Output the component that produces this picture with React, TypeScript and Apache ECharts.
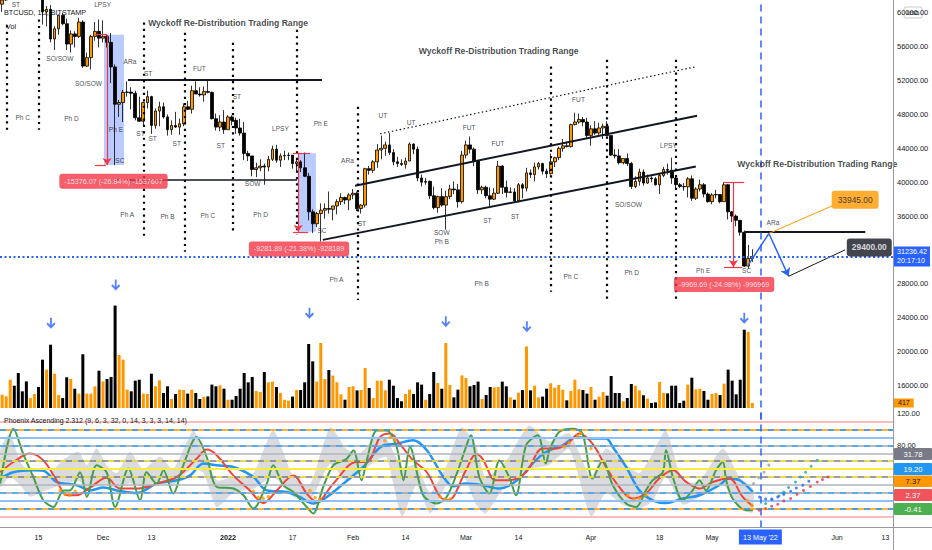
import { useEffect, useRef } from 'react';
import * as echarts from 'echarts';

const FONT = '"Liberation Sans", Arial, sans-serif';
const INK = '#131722';
const UP = '#ff9800';
const DOWN = '#000000';
const BLUE = '#2962ff';
const RED = '#f23645';

// days counted from 2021-12-01; first candle is 2021-11-05
const FIRST_DAY = -26;
const X_MIN = -25.54;
const X_MAX = 195.88;
const CURSOR_DAY = 163; // 13 May '22
const LAST_PRICE = 31236.42;
const COUNTDOWN = '20:17:10';

// [open, high, low, close]  BTCUSD 1D, 2021-11-05 .. 2022-05-11
const OHLC: number[][] = [
  [61400, 62600, 60700, 61000], [61000, 61600, 60100, 61500], [61500, 63300, 61400, 63300], [63300, 67800, 63300, 67500],
  [67500, 68500, 66400, 66900], [66900, 69000, 63000, 64900], [64900, 65600, 64100, 64800], [64800, 65000, 62300, 64150],
  [64150, 64900, 63300, 64400], [64400, 65500, 63600, 65500], [65500, 66300, 63500, 63600], [63600, 63600, 58600, 60100],
  [60100, 60800, 58400, 60400], [60400, 60900, 56500, 56900], [56900, 58400, 55600, 58100], [58100, 59800, 57400, 59700],
  [59700, 60000, 58500, 58700], [58700, 59300, 55600, 56300], [56300, 57900, 55300, 57500], [57500, 57800, 55900, 57200],
  [57200, 59400, 57000, 58900], [58900, 59100, 53500, 53700], [53700, 55300, 53600, 54700], [54700, 57400, 53300, 57200],
  [57200, 58900, 56700, 57800], [57800, 59200, 55900, 57000],
  // Dec
  [57000, 59100, 56500, 57200], [57200, 57400, 55900, 56500], [56500, 57600, 51700, 53600], [53600, 53900, 42000, 49200],
  [49200, 49700, 47700, 49400], [49400, 50900, 47100, 50600], [50600, 51900, 50100, 50640], [50640, 51200, 48600, 50500],
  [50500, 50800, 47300, 47600], [47600, 50100, 47100, 47200], [47200, 49500, 46600, 49400], [49400, 50800, 48700, 50100],
  [50100, 50200, 45700, 46700], [46700, 48700, 46300, 48400], [48400, 49500, 46600, 48900], [48900, 49400, 47500, 47700],
  [47700, 48000, 45500, 46200], [46200, 47300, 45600, 46700], [46700, 48300, 46400, 46500], [46500, 47500, 45600, 46900],
  [46900, 49300, 46600, 48900], [48900, 49600, 48500, 48600], [48600, 51400, 48100, 50800], [50800, 51900, 50400, 50400],
  [50400, 51200, 50100, 50300], [50300, 51300, 49500, 50700], [50700, 52100, 50500, 50600], [50600, 50700, 47400, 47500],
  [47500, 48100, 46100, 46500], [46500, 47900, 46000, 47100], [47100, 48500, 45700, 46200],
  // Jan
  [46200, 47900, 46200, 47700], [47700, 47900, 46700, 47300], [47300, 47600, 45700, 46400], [46400, 47500, 45500, 45800],
  [45800, 47100, 42600, 43400], [43400, 43700, 42500, 43100], [43100, 43100, 40700, 41500], [41500, 42300, 40600, 41700],
  [41700, 42700, 41300, 41900], [41900, 42200, 39700, 41800], [41800, 43100, 41300, 42700], [42700, 44300, 42500, 43900],
  [43900, 44400, 42300, 42600], [42600, 43400, 41800, 43100], [43100, 43700, 42600, 43150], [43150, 43500, 42600, 43200],
  [43200, 43200, 41600, 42200], [42200, 42700, 41300, 42400], [42400, 42600, 41200, 41700], [41700, 43500, 40600, 40700],
  [40700, 41100, 35500, 36500], [36500, 36800, 34000, 35100], [35100, 36500, 34700, 36300], [36300, 37500, 33000, 36700],
  [36700, 37500, 35700, 36900], [36900, 38900, 36300, 36800], [36800, 37200, 35500, 37200], [37200, 38000, 36200, 37700],
  [37700, 38700, 37300, 38200], [38200, 38300, 37400, 37900], [37900, 38700, 36700, 38500],
  // Feb
  [38500, 39200, 38000, 38700], [38700, 38900, 36600, 36900], [36900, 37400, 36300, 37300], [37300, 41700, 37000, 41600],
  [41600, 41900, 40900, 41400], [41400, 42600, 41100, 42400], [42400, 44500, 41700, 43800], [43800, 45500, 42700, 44000],
  [44000, 44800, 43100, 44400], [44400, 45800, 43200, 43500], [43500, 43900, 42000, 42400], [42400, 43000, 41800, 42200],
  [42200, 42700, 41900, 42100], [42100, 42900, 41600, 42500], [42500, 44700, 42500, 44500], [44500, 44600, 43300, 43900],
  [43900, 44200, 40100, 40500], [40500, 40900, 39500, 40000], [40000, 40500, 39700, 40100], [40100, 40200, 38000, 38400],
  [38400, 39500, 36800, 37000], [37000, 38400, 36400, 38300], [38300, 39300, 37100, 37300], [37300, 39000, 34400, 38300],
  [38300, 39700, 38000, 39200], [39200, 40100, 38600, 39100], [39100, 39800, 37000, 37700], [37700, 43700, 37500, 43200],
  // Mar
  [43200, 44900, 42800, 44400], [44400, 45400, 43400, 43900], [43900, 44100, 41900, 42500], [42500, 42500, 38600, 39100],
  [39100, 39600, 38600, 39400], [39400, 39600, 38100, 38400], [38400, 39400, 37200, 38000], [38000, 39300, 37900, 38700],
  [38700, 42500, 38600, 41900], [41900, 42000, 38600, 39400], [39400, 40200, 38200, 38800], [38800, 39400, 38700, 38850],
  [38850, 39300, 37600, 37800], [37800, 39900, 37600, 39700], [39700, 39900, 38100, 39300], [39300, 41700, 38900, 41100],
  [41100, 41500, 40500, 40900], [40900, 42300, 40100, 41800], [41800, 42400, 41500, 42200], [42200, 42300, 40900, 41300],
  [41300, 41600, 40500, 41000], [41000, 43400, 40900, 42400], [42400, 43000, 41800, 42900], [42900, 44200, 42600, 44000],
  [44000, 45100, 43600, 44300], [44300, 44800, 44100, 44200], [44200, 46900, 44100, 46800], [46800, 48200, 46700, 47100],
  [47100, 48100, 46900, 47400], [47400, 47700, 46600, 47100], [47100, 47600, 45200, 45500],
  // Apr
  [45500, 46700, 44300, 46300], [46300, 47200, 45600, 45800], [45800, 47000, 45600, 46400], [46400, 46900, 45100, 46600],
  [46600, 47200, 45400, 45500], [45500, 45500, 43100, 43200], [43200, 43900, 42800, 43100], [43100, 43900, 42100, 42300],
  [42300, 42800, 42100, 42800], [42800, 43400, 41900, 42200], [42200, 42400, 39200, 39500], [39500, 40700, 39300, 40100],
  [40100, 41600, 39600, 41200], [41200, 41500, 39600, 39900], [39900, 40900, 39800, 40500], [40500, 40700, 40000, 40400],
  [40400, 40600, 39600, 39700], [39700, 41100, 38600, 40800], [40800, 41800, 40600, 41500], [41500, 42200, 40900, 41400],
  [41400, 42900, 39800, 40500], [40500, 40800, 39200, 39700], [39700, 39900, 39300, 39500], [39500, 39900, 39000, 39450],
  [39450, 40600, 38200, 40400], [40400, 40800, 37800, 38100], [38100, 39400, 37900, 39200], [39200, 40300, 38900, 39700],
  [39700, 39900, 38200, 38600], [38600, 38800, 37600, 37700],
  // May
  [37700, 38700, 37400, 38500], [38500, 39100, 38100, 38550], [38550, 38600, 37500, 37700], [37700, 40000, 37700, 39700],
  [39700, 39800, 35600, 36500], [36500, 36600, 35300, 36000], [36000, 36200, 34800, 35500], [35500, 35500, 33700, 34100],
  [34100, 34300, 30000, 30100], [30100, 32600, 29800, 31000], [31000, 32100, 30600, 31236.42],
];

const VOLUME: number[] = [
  1390, 1110, 970, 2360, 1860, 2920, 1390, 2220, 830, 1170,
  1750, 4030, 3200, 5280, 2860, 1080, 830, 2560, 2420, 1610,
  1200, 4480, 1200, 1200, 1810, 3110, 2220, 2420, 2590, 8540,
  4420, 4030, 1530, 1390, 2280, 2360, 1200, 1170, 2860, 1810,
  2310, 1250, 1810, 750, 1170, 1530, 1500, 1200, 1530, 1250,
  750, 920, 970, 1950, 1810, 1890, 1610, 690, 690, 1000,
  1610, 2920, 2140, 2590, 1420, 1330, 3000, 2140, 2200, 1750,
  1250, 690, 610, 950, 1500, 1500, 2140, 5340, 3890, 2200,
  5420, 2420, 3170, 2700, 2140, 1140, 690, 1750, 1810, 1470,
  1500, 3340, 1670, 830, 2280, 2280, 1470, 2360, 1860, 830,
  560, 1170, 1530, 1170, 2140, 1950, 690, 1170, 3000, 2090,
  1610, 5420, 1920, 890, 1530, 2720, 2500,
  1810, 1920, 2200, 750, 1080, 1750, 1720, 1750, 2200, 1810,
  890, 690, 1280, 1500, 5140, 1470, 1860, 890, 950, 1610,
  2060, 1690, 1920, 1530, 640, 1420, 2360, 1560, 1500, 1200,
  1750, 690, 950, 1330, 1030, 2670, 1250, 1250, 560, 830,
  2000, 1860, 1470, 1060, 780, 420, 470, 2170, 1250, 1220,
  1860, 1860, 420, 610, 1950, 2530, 1560, 1610, 1420, 690,
  1170, 1250, 1080, 2030, 3200, 2280, 1140, 2360, 6530, 6340, 417,
];

const TIME_LABELS: [number, string][] = [
  [-16, '15'], [0, 'Dec'], [12, '13'], [31, '2022'], [47, '17'], [62, 'Feb'], [75, '14'],
  [90, 'Mar'], [103, '14'], [121, 'Apr'], [138, '18'], [151, 'May'], [182, 'Jun'], [194, '13'],
];

// chart drawings, in [day, price]
const RANGE_LINES: number[][][] = [
  [[-26, 59560], [3.7, 59560]],
  [[6.2, 52050], [54.3, 52050]],
  [[3, 40340], [48.1, 40340]],
  [[159.2, 34150], [189, 34150]],
];
const CHANNEL_LINES: number[][][] = [
  [[54.5, 33195], [147, 41850]],
  [[62.5, 39572], [147.3, 47837]],
];
const CHANNEL_TOP: number[][] = [[68.7, 45712], [147.3, 53660]];
const PHASE_LINES: number[][] = [
  [-23.9, 58510, 46180], [-15.9, 59200, 46180], [10, 58850, 33200], [20.2, 57640, 31780],
  [32.1, 56460, 34140], [48.1, 57990, 33790], [63.2, 48900, 26110], [111, 53660, 27060],
  [125, 54450, 26110], [142.1, 54450, 26110],
];
const PROJECTION: number[][] = [[160, 30240], [165.1, 33945], [170, 28900]];
const TARGETS = [
  { text: '33945.00', from: [165.1, 33945], to: [180.8, 37210], at: [186.5, 37920] },
  { text: '29400.00', from: [170, 28900], to: [184, 32015], at: [190, 32310] },
];
const MEASURES = [
  { text: '-15376.07 (-26.84%) -1537607', top: 57400, bottom: 42024, lineDay: 1, cap: [-2, 1], box: [0.25, 5.2], at: [2.6, 40100] },
  { text: '-9281.89 (-21.38%) -928189', top: 43430, bottom: 34148, lineDay: 48.4, cap: [47.1, 51.3], box: [48.4, 52.8], at: [48.6, 32130] },
  { text: '-9969.69 (-24.98%) -996969', top: 39960, bottom: 29990, lineDay: 156.3, cap: [154, 159], box: null, at: [154, 27940] },
];
const TITLES: [string, number, number][] = [
  ['Wyckoff Re-Distribution Trading Range', 31, 58780],
  ['Wyckoff Re-Distribution Trading Range', 98.1, 55510],
  ['Wyckoff Re-Distribution Trading Range', 177.1, 42130],
];
const ANNOTATIONS: [string, number, number][] = [
  ['ST', -21.6, 61000], ['LPSY', -0.1, 61000], ['SO/SOW', -10.7, 54650], ['SO/SOW', -3.6, 51700],
  ['ARa', 6.7, 54250], ['ST', 11.2, 52800], ['FUT', 23.9, 53470], ['ST', 33.2, 50120],
  ['Ph C', -19.9, 47640], ['Ph D', -7.8, 47570], ['Ph E', 3.2, 46180], ['SC', 4.2, 42560],
  ['ST', 9.3, 45790], ['ST', 12.3, 45120], ['ST', 18.3, 44610], ['ST', 29.2, 44380],
  ['LPSY', 44, 46300], ['SOW', 37.1, 39810], ['Ph E', 54, 46890], ['ARa', 60.6, 42610],
  ['ST', 64.2, 35140], ['SC', 54.3, 34320], ['Ph A', 6, 36150], ['Ph B', 16, 35950],
  ['Ph C', 26, 36030], ['Ph D', 39.1, 36230], ['Ph A', 57.9, 28470], ['UT', 69.4, 47840],
  ['UT', 76.4, 47090], ['FUT', 90.8, 46500], ['FUT', 97.9, 44530], ['SOW', 84, 34060],
  ['Ph B', 84, 32990], ['ST', 95.3, 35440], ['ST', 102.2, 35950], ['Ph B', 93.9, 28080],
  ['FUT', 117.9, 49730], ['Ph C', 116, 28860], ['LPSY', 140.2, 44290], ['SO/SOW', 130.3, 37330],
  ['Ph D', 131.1, 29330], ['Ph E', 148.8, 29570], ['SC', 159.6, 29540], ['ARa', 166.1, 35260],
];
const VOLUME_ARROWS: number[][] = [[-12.9, 7064], [3.15, 10258], [51.2, 7900], [85, 7200], [105.1, 6780], [159, 7480]];

// oscillator (Phoenix Ascending)
const OSC_LEVELS = [110, 100, 90, 80, 70, 60, 50, 40, 30, 20, 10, 0, -10];
const OSC_FAST: number[][] = [
  [-25.5, 31.6], [-22.2, 101], [-19.8, 69.6], [-17.3, 40], [-14.8, 10.5], [-12.3, 2], [-9.8, 23], [-8.2, 23],
  [-5.7, 46], [-4, 14.7], [-1.6, 54.8], [0.9, 46], [3, 2], [6.3, 50.6], [9.2, 10.5], [10.8, 46], [13.3, 31.6],
  [15, 48.5], [17.4, 19], [19.9, 54.8], [23.2, 90.6], [25.7, 65.3], [28.2, 27.3], [32.3, 25.3], [34.8, 16.8],
  [37.3, 0], [40.6, 31.6], [42.2, 54.8], [44.7, 29.5], [47.2, 21], [50.5, 2], [52.1, -6.3], [54.6, 27.3],
  [57.1, 54.8], [60.4, 63], [62.1, 73.8], [64.1, 35.8], [65.4, 61], [67.9, 99], [70.3, 99], [72.8, 78],
  [74.5, 35.8], [76.1, 78], [79.4, 16.8], [82.7, 6.3], [85.2, 14.7], [87.7, 44], [90, 78], [91.2, 92.8],
  [93.3, 40], [95.8, 19], [98.3, 61], [100.7, 40], [102.4, 16.8], [104.9, 80], [107.8, 92.8], [109.8, 57],
  [110.7, 73.8], [113.1, 97], [116.5, 101], [118.9, 95], [121.4, 38], [123.9, 61], [126.4, 29.5], [129.7, 6.3],
  [132.2, 2], [134.6, 23], [136.3, 35.8], [138.8, 46], [139.6, 73.8], [141.3, 40], [143.7, 10.5], [146.2, 23],
  [147.9, 35.8], [149.5, 23], [152, 48.5], [153.7, 59], [154.5, 35.8], [156.1, 12.7], [159.4, -2], [161.1, -2],
];
const OSC_MID: number[][] = [
  [-25.5, 46], [-22.2, 59], [-18.1, 69.6], [-14.8, 61], [-11.5, 35.8], [-9, 16.8], [-6.5, 16.8], [-3.2, 26.6],
  [0.9, 39], [4.2, 25.3], [8.4, 25.3], [13.3, 31.6], [18.3, 40], [23.2, 63], [25.7, 74.7], [28.2, 67.5],
  [32.3, 42], [36.4, 23], [39.7, 7], [43.1, 23], [47.2, 42], [50.5, 19], [53, 8.4], [57.1, 31.6], [62.9, 59],
  [65.4, 59], [68.7, 90.6], [71.2, 95], [73.6, 82], [76.9, 61], [80.3, 46], [83.6, 14.7], [85.6, 10.5],
  [90, 48.5], [92.5, 69], [94.1, 63], [97.4, 35.8], [100.7, 35.8], [104.9, 46], [109, 76], [112.3, 76],
  [115.6, 84.3], [118.1, 95], [121.4, 82], [124.7, 52.7], [128, 27.3], [131.3, 12.7], [134.6, 19], [137.9, 38],
  [141.3, 48.5], [144.6, 33.7], [147.9, 25.3], [151.2, 33.7], [155.3, 38], [158.6, 14.7], [161.1, 3],
];
const OSC_SLOW: number[][] = [
  [-25.5, 38], [-22.2, 46], [-17.3, 48.5], [-14.8, 48], [-11.5, 33.7], [-6.5, 29.5], [-3.2, 23], [0.1, 26.6],
  [3.4, 23], [8.4, 19.7], [13.3, 31.6], [18.3, 35.8], [21.6, 42], [24.9, 57], [28.2, 54.8], [32.3, 52.7],
  [37.3, 40], [40.6, 23], [45.5, 21], [48.8, 14.7], [52.1, 6.3], [55.5, 14.7], [59.6, 31.6], [64.5, 52.7],
  [69.5, 80], [72.8, 82], [76.9, 86.5], [80.3, 73.8], [84.4, 40], [86.9, 28.2], [90, 31.6], [94.1, 29.5],
  [98.3, 25.3], [103.2, 38], [106.5, 57], [109.8, 71.6], [114, 80], [117.3, 90.6], [120.6, 88.6], [124.7, 88.6],
  [126.4, 78], [129.7, 52.7], [133, 23], [136.3, 10.5], [139.6, 7], [143.7, 12.7], [147.9, 16.8], [152.8, 29.5],
  [155.3, 38], [157.8, 35.8], [161.1, 21],
];
// [day, low, high]
const OSC_BAND: number[][] = [
  [-25.5, 27, 74], [-23.1, 40, 95], [-20.6, 30, 60], [-18.1, 15, 45], [-15.6, 20, 40], [-13.1, 25, 45],
  [-9.8, 30, 62], [-6.1, 35, 72], [-4, 25, 55], [-1.6, 28, 76], [0.9, 30, 55], [3.4, 25, 45], [6.7, 32, 72],
  [10, 28, 50], [14.1, 36, 66], [17.4, 30, 50], [22.4, 52, 99], [24.9, 45, 70], [28.2, 2, 36], [32.3, 20, 40],
  [37.3, 25, 45], [42.2, 40, 99], [47.2, 15, 40], [51.3, 10, 30], [56.3, 56, 103], [60.4, 35, 75],
  [63.7, 45, 70], [67.5, 60, 90], [70.3, 65, 88], [74.1, -10, 53], [77.8, 30, 55], [81.1, -6, 20],
  [85.2, 30, 55], [88.9, 45, 103], [92.5, 5, 80], [94.9, -6, 40], [99.9, 30, 60], [105.6, 50, 105],
  [110.6, 55, 85], [115.6, 75, 95], [121, -10, 40], [124.7, 20, 76], [128.8, 5, 60], [133, 0, 45],
  [136.3, 10, 70], [139.6, 40, 99], [143.7, 5, 35], [147.9, 15, 35], [153.7, 30, 76], [157.8, 0, 40],
  [161.1, -5, 25],
];
const OSC_DOTS: number[][] = [
  [-10.6, 23], [-9.4, 18], [-8.2, 17], [-6.9, 22], [37.3, 22], [38.5, 14], [39.7, 13], [41, 15],
  [51.3, 23], [52.6, 14], [53.8, 12], [69.9, 86], [71.2, 90], [72.4, 87], [83.6, 15], [84.8, 12], [86.1, 12],
  [114.4, 78], [115.6, 83], [117.7, 92], [118.5, 95], [121, 76], [130.1, 17], [131.7, 12], [133, 13],
  [134.6, 17], [159.8, 10], [160.9, 4],
];
const FC_GREY: number[][] = [[161.3, 31.6], [162.6, 39], [163.9, 46], [165.1, 55]];
const FC_TEAL: number[][] = [[164.3, 6.3], [165.9, 11.4], [167.6, 16], [168.8, 21], [170, 26.6], [171.7, 33.7], [172.9, 40], [174.2, 46], [175.6, 53.5], [177.1, 61]];
const FC_BLUE: number[][] = [[162.8, 14.7], [164.3, 12], [165.8, 12], [167.3, 14.7], [168.8, 18], [170.5, 22], [171.9, 26], [173.5, 29.5], [175, 34.6]];
const FC_RED: number[][] = [[162.7, -2.2], [164.3, 0], [165.8, 3], [167.3, 5.5], [168.8, 9.7], [170.5, 12.7], [172.1, 18], [173.7, 23], [175.4, 28], [177.1, 33.7], [178.4, 36.7], [179.8, 40]];
const OSC_LAST: [string, string, string][] = [
  ['31.78', '#787b86', '#ffffff'], ['19.20', '#2196f3', '#ffffff'], ['7.37', '#ff9800', INK],
  ['2.37', '#f0535a', '#ffffff'], ['-0.41', '#4caf50', '#ffffff'],
];

function levelStyles(v: number): any[] {
  if (v === 110 || v === -10) return [{ color: '#f7a8a6', width: 1.5, type: 'solid' }];
  if (v === 100 || v === 0) return [{ color: '#ff9800', width: 1.5, type: 'solid' }, { color: '#2196f3', width: 1.5, type: [6, 6] }];
  if (v === 90 || v === 10) return [{ color: '#90bff9', width: 2, type: 'solid' }];
  if (v === 60 || v === 40) return [{ color: '#787b86', width: 1.5, type: 'solid' }, { color: '#ffeb3b', width: 1.5, type: [6, 6] }];
  if (v === 50) return [{ color: '#ffeb3b', width: 2, type: 'solid' }];
  if (v === 80 || v === 20) return [{ color: '#9aa0ad', width: 1.5, type: 'solid' }, { color: '#42a5f5', width: 1.5, type: [6, 6] }];
  return [{ color: '#b2b5be', width: 1.5, type: 'solid' }];
}

function buildOption(): any {
  const candleData = OHLC.map((c, i) => [FIRST_DAY + i, c[0], c[3], c[2], c[1]]);
  const volumeData = VOLUME.map((v, i) => ({
    value: [FIRST_DAY + i, v],
    itemStyle: { color: OHLC[i][3] >= OHLC[i][0] ? UP : DOWN },
  }));

  const seg = (a: number[], b: number[], lineStyle: any, endSym = 'none', size = 7) => [
    { coord: a, symbol: 'none', lineStyle },
    { coord: b, symbol: endSym, symbolSize: size },
  ];
  const redStyle = { color: RED, width: 1.2, type: 'solid' };

  const priceLines: any[] = [
    ...RANGE_LINES.map(([a, b], i) => seg(a, b, { color: INK, width: i === 2 ? 1.5 : 2, type: 'solid' })),
    ...CHANNEL_LINES.map(([a, b]) => seg(a, b, { color: INK, width: 2, type: 'solid' })),
    seg(CHANNEL_TOP[0], CHANNEL_TOP[1], { color: INK, width: 1.2, type: [1.5, 2.5] }),
    ...PHASE_LINES.map(([d, top, bottom]) => seg([d, top], [d, bottom], { color: '#000', width: 2.2, type: [2.2, 4.2] })),
    seg(PROJECTION[0], PROJECTION[1], { color: BLUE, width: 1.5, type: 'solid' }),
    seg(PROJECTION[1], PROJECTION[2], { color: BLUE, width: 1.5, type: 'solid' }, 'arrow', 8),
    seg(TARGETS[0].from, TARGETS[0].to, { color: UP, width: 1, type: 'solid' }),
    seg(TARGETS[1].from, TARGETS[1].to, { color: INK, width: 1, type: 'solid' }),
    ...MEASURES.flatMap((m) => [
      seg([m.lineDay, m.top], [m.lineDay, m.bottom], redStyle, 'arrow', 7),
      seg([m.cap[0], m.top], [m.cap[1], m.top], redStyle),
      seg([m.cap[0], m.bottom], [m.cap[0] + (m.cap[1] - m.cap[0]) * 0.9, m.bottom], redStyle),
    ]),
    {
      yAxis: LAST_PRICE,
      lineStyle: { color: BLUE, width: 2, type: [2, 2.5] },
      label: {
        show: true, position: 'end', distance: 1, formatter: `${LAST_PRICE.toFixed(2)}\n${COUNTDOWN}`,
        backgroundColor: BLUE, color: '#fff', padding: [1, 3], fontSize: 7.2, lineHeight: 9, fontFamily: FONT,
      },
    },
    { xAxis: CURSOR_DAY, lineStyle: { color: BLUE, width: 1.5, type: [7, 5] } },
  ];

  const boxes = MEASURES.filter((m) => m.box).map((m) => [
    { coord: [m.box![0], m.top], itemStyle: { color: 'rgba(41,98,255,0.33)' } },
    { coord: [m.box![1], m.bottom] },
  ]);

  const oscLevelLines: any[] = [];
  OSC_LEVELS.forEach((v) => levelStyles(v).forEach((s) => oscLevelLines.push({ yAxis: v, lineStyle: s })));

  const timeLabelMap = new Map(TIME_LABELS);
  // price tick hidden behind the last-price badge
  const coveredTick = Math.round(LAST_PRICE / 4000) * 4000;

  return {
    animation: false,
    backgroundColor: '#ffffff',
    textStyle: { fontFamily: FONT },
    grid: [
      { left: 0, top: 0, width: 893, height: 419.5, outerBoundsMode: 'none' },
      { left: 0, top: 280, width: 893, height: 128, outerBoundsMode: 'none' },
      { left: 0, top: 407.5, width: 893, height: 120, outerBoundsMode: 'none' },
    ],
    xAxis: [0, 1, 2].map((g) => ({
      type: 'value', gridIndex: g, min: X_MIN, max: X_MAX, show: g === 2,
      splitLine: { show: false }, axisLine: { show: false }, axisTick: { show: false },
      axisLabel: g === 2 ? {
        customValues: TIME_LABELS.map((t) => t[0]), margin: 6, color: INK, fontSize: 7, fontFamily: FONT,
        formatter: (v: number) => {
          const t = timeLabelMap.get(v) ?? '';
          return t === '2022' ? '{b|2022}' : t;
        },
        rich: { b: { fontWeight: 'bold', fontSize: 7.2, color: INK, fontFamily: FONT } },
      } : { show: false },
    })),
    yAxis: [
      {
        type: 'value', gridIndex: 0, position: 'right', min: 12000, max: 61500, interval: 4000,
        splitLine: { show: false }, axisLine: { show: false }, axisTick: { show: false },
        axisLabel: {
          color: INK, fontSize: 7.5, margin: 4, fontFamily: FONT,
          formatter: (v: number) => (v >= 16000 && v % 4000 === 0 && v !== coveredTick ? v.toFixed(2) : ''),
        },
      },
      { type: 'value', gridIndex: 1, min: 0, max: 10675, show: false, splitLine: { show: false } },
      {
        type: 'value', gridIndex: 2, position: 'right', min: -24, max: 128, interval: 8,
        splitLine: { show: false }, axisLine: { show: false }, axisTick: { show: false },
        axisLabel: {
          color: INK, fontSize: 7.5, margin: 4, fontFamily: FONT,
          formatter: (v: number) => (v === 120 || v === 80 ? v.toFixed(2) : ''),
        },
      },
    ],
    series: [
      {
        type: 'scatter', name: 'drawings', xAxisIndex: 0, yAxisIndex: 0, z: 1,
        data: [[X_MIN, 50000]], symbolSize: 0, itemStyle: { opacity: 0 }, silent: true,
        markArea: { silent: true, data: boxes, z: 1 },
      },
      {
        type: 'candlestick', name: 'BTCUSD', xAxisIndex: 0, yAxisIndex: 0, z: 3,
        data: candleData, encode: { x: 0, y: [1, 2, 3, 4] }, barWidth: 3.2,
        itemStyle: { color: UP, color0: DOWN, borderColor: '#000', borderColor0: '#000', borderWidth: 0.8 },
      },
      {
        type: 'bar', name: 'Vol', xAxisIndex: 1, yAxisIndex: 1, z: 2, barWidth: 3,
        data: volumeData,
        markLine: {
          silent: true, symbol: ['none', 'none'],
          data: [{
            yAxis: VOLUME[VOLUME.length - 1], lineStyle: { color: 'rgba(0,0,0,0)', width: 1 },
            label: {
              show: true, position: 'end', distance: 1, formatter: String(VOLUME[VOLUME.length - 1]),
              backgroundColor: UP, color: INK, padding: [1, 4], fontSize: 7, fontFamily: FONT, opacity: 1,
            },
          }],
        },
      },
      {
        type: 'scatter', name: 'volume arrows', xAxisIndex: 1, yAxisIndex: 1, z: 5,
        symbol: 'path://M4,0 L6,0 L6,7.5 L8.6,4.9 L10,6.3 L5,11.3 L0,6.3 L1.4,4.9 L4,7.5 Z',
        symbolSize: [9, 11], itemStyle: { color: BLUE }, data: VOLUME_ARROWS,
      },
      {
        type: 'scatter', name: 'lines', xAxisIndex: 0, yAxisIndex: 0, z: 5,
        data: [[X_MIN, 50000]], symbolSize: 0, itemStyle: { opacity: 0 }, silent: true,
        markLine: { silent: true, symbol: ['none', 'none'], label: { show: false }, data: priceLines, z: 5 },
      },
      {
        type: 'scatter', name: 'annotations', xAxisIndex: 0, yAxisIndex: 0, z: 6, symbolSize: 1,
        itemStyle: { color: 'rgba(0,0,0,0)' },
        label: { show: true, position: 'inside', formatter: '{b}', color: INK, fontSize: 6.6, fontFamily: FONT },
        data: ANNOTATIONS.map(([t, d, p]) => ({ name: t, value: [d, p] })),
      },
      {
        type: 'scatter', name: 'titles', xAxisIndex: 0, yAxisIndex: 0, z: 6, symbolSize: 1,
        itemStyle: { color: 'rgba(0,0,0,0)' },
        label: { show: true, position: 'inside', formatter: '{b}', color: INK, fontSize: 8.6, fontWeight: 'bold', fontFamily: FONT },
        data: TITLES.map(([t, d, p]) => ({ name: t, value: [d, p] })),
      },
      {
        type: 'scatter', name: 'badges', xAxisIndex: 0, yAxisIndex: 0, z: 7, symbolSize: 1,
        itemStyle: { color: 'rgba(0,0,0,0)' },
        label: { show: true, position: 'inside', formatter: '{b}', fontFamily: FONT },
        data: [
          ...MEASURES.map((m) => ({
            name: m.text, value: m.at,
            label: { backgroundColor: RED, color: '#fff', padding: [4, 5], borderRadius: 3, fontSize: 7.2 },
          })),
          {
            name: TARGETS[0].text, value: TARGETS[0].at,
            label: { backgroundColor: UP, color: INK, padding: [5, 6], borderRadius: 3, fontSize: 8.4 },
          },
          {
            name: TARGETS[1].text, value: TARGETS[1].at,
            label: { backgroundColor: INK, color: '#fff', padding: [5, 5], borderRadius: 3, fontSize: 8.4, fontWeight: 'bold' },
          },
        ],
      },
      // oscillator
      {
        type: 'line', name: 'levels', xAxisIndex: 2, yAxisIndex: 2, z: 1,
        data: [[X_MIN, 50]], symbol: 'none', lineStyle: { opacity: 0 }, silent: true,
        markLine: {
          silent: true, symbol: ['none', 'none'], label: { show: false },
          data: [
            ...oscLevelLines,
            {
              xAxis: CURSOR_DAY, lineStyle: { color: BLUE, width: 1.5, type: [7, 5] },
              label: {
                show: true, position: 'start', distance: 2, formatter: "13 May '22",
                backgroundColor: BLUE, color: '#fff', padding: [4, 4], fontSize: 7.2, fontFamily: FONT,
              },
            },
          ],
        },
      },
      {
        type: 'custom', name: 'band', xAxisIndex: 2, yAxisIndex: 2, z: 2, clip: true,
        data: OSC_BAND, encode: { x: 0, y: [1, 2] },
        renderItem: (params: any, api: any) => {
          if (params.dataIndex !== 0) return null;
          const upper = OSC_BAND.map((b) => api.coord([b[0], b[2]]));
          const lower = OSC_BAND.map((b) => api.coord([b[0], b[1]])).reverse();
          return {
            type: 'polygon',
            shape: { points: [...upper, ...lower], smooth: 0.2 },
            style: { fill: '#c3c5cb', opacity: 0.62 },
          };
        },
      },
      {
        type: 'line', name: 'slow', xAxisIndex: 2, yAxisIndex: 2, z: 3, smooth: 0.35, symbol: 'none',
        lineStyle: { color: '#2196f3', width: 2.5 }, data: OSC_SLOW,
      },
      {
        type: 'line', name: 'mid', xAxisIndex: 2, yAxisIndex: 2, z: 4, smooth: 0.35, symbol: 'none',
        lineStyle: { color: '#f44336', width: 2 }, data: OSC_MID,
      },
      {
        type: 'line', name: 'fast', xAxisIndex: 2, yAxisIndex: 2, z: 4, smooth: 0.3, symbol: 'none',
        lineStyle: { color: '#43a047', width: 2 }, data: OSC_FAST,
      },
      { type: 'scatter', name: 'dots', xAxisIndex: 2, yAxisIndex: 2, z: 5, symbolSize: 3.5, itemStyle: { color: UP }, data: OSC_DOTS },
      { type: 'scatter', name: 'fc grey', xAxisIndex: 2, yAxisIndex: 2, z: 5, symbolSize: 3, itemStyle: { color: '#9e9e9e' }, data: FC_GREY },
      { type: 'scatter', name: 'fc teal', xAxisIndex: 2, yAxisIndex: 2, z: 5, symbolSize: 3, itemStyle: { color: '#26a69a' }, data: FC_TEAL },
      { type: 'scatter', name: 'fc blue', xAxisIndex: 2, yAxisIndex: 2, z: 5, symbolSize: 3, itemStyle: { color: BLUE }, data: FC_BLUE },
      { type: 'scatter', name: 'fc red', xAxisIndex: 2, yAxisIndex: 2, z: 5, symbolSize: 3, itemStyle: { color: RED }, data: FC_RED },
    ],
    graphic: [
      { type: 'text', x: 4, y: 9, z: 0, style: { text: 'BTCUSD, 1D, BITSTAMP', fill: INK, fontSize: 7.2, fontFamily: FONT } },
      { type: 'text', x: 6, y: 23, z: 0, style: { text: 'Vol', fill: INK, fontSize: 7.2, fontFamily: FONT } },
      {
        type: 'text', x: 4, y: 417, z: 10,
        style: { text: 'Phoenix Ascending 2.312 (9, 6, 3, 32, 0, 14, 3, 3, 3, 14, 14)', fill: INK, fontSize: 7, fontFamily: FONT },
      },
      { type: 'line', z: 10, shape: { x1: 893.5, y1: 0, x2: 893.5, y2: 550 }, style: { stroke: '#9598a1', lineWidth: 1 } },
      { type: 'line', z: 10, shape: { x1: 0, y1: 527.5, x2: 932, y2: 527.5 }, style: { stroke: '#9598a1', lineWidth: 1 } },
      {
        type: 'group', x: 904, y: 7, z: 20, children: [
          { type: 'rect', shape: { x: 0, y: 0, width: 18, height: 11, r: 2 }, style: { fill: '#fff', stroke: '#c8cad0', lineWidth: 1 } },
          { type: 'text', x: 9, y: 5.5, style: { text: 'USD', fill: INK, fontSize: 6, fontFamily: FONT, align: 'center', verticalAlign: 'middle' } },
        ],
      },
      ...OSC_LAST.map(([t, bg, fg], i) => ({
        type: 'group', x: 894, y: [448, 463, 475.5, 489, 503][i], z: 20, children: [
          { type: 'rect', shape: { x: 0, y: 0, width: 38, height: i === 2 ? 11.5 : 12, r: 1 }, style: { fill: bg } },
          { type: 'text', x: 19, y: 6, style: { text: t, fill: fg, fontSize: 7.6, fontFamily: FONT, align: 'center', verticalAlign: 'middle' } },
        ],
      })),
    ],
  };
}

export default function App() {
  const ref = useRef<HTMLDivElement>(null);
  useEffect(() => {
    if (!ref.current) return;
    const chart = echarts.init(ref.current, undefined, { renderer: 'svg' });
    chart.setOption(buildOption());
    return () => chart.dispose();
  }, []);
  return (
    <div
      ref={ref}
      style={{ position: 'fixed', left: 0, top: 0, width: 932, height: 550, background: '#fff' }}
    />
  );
}
